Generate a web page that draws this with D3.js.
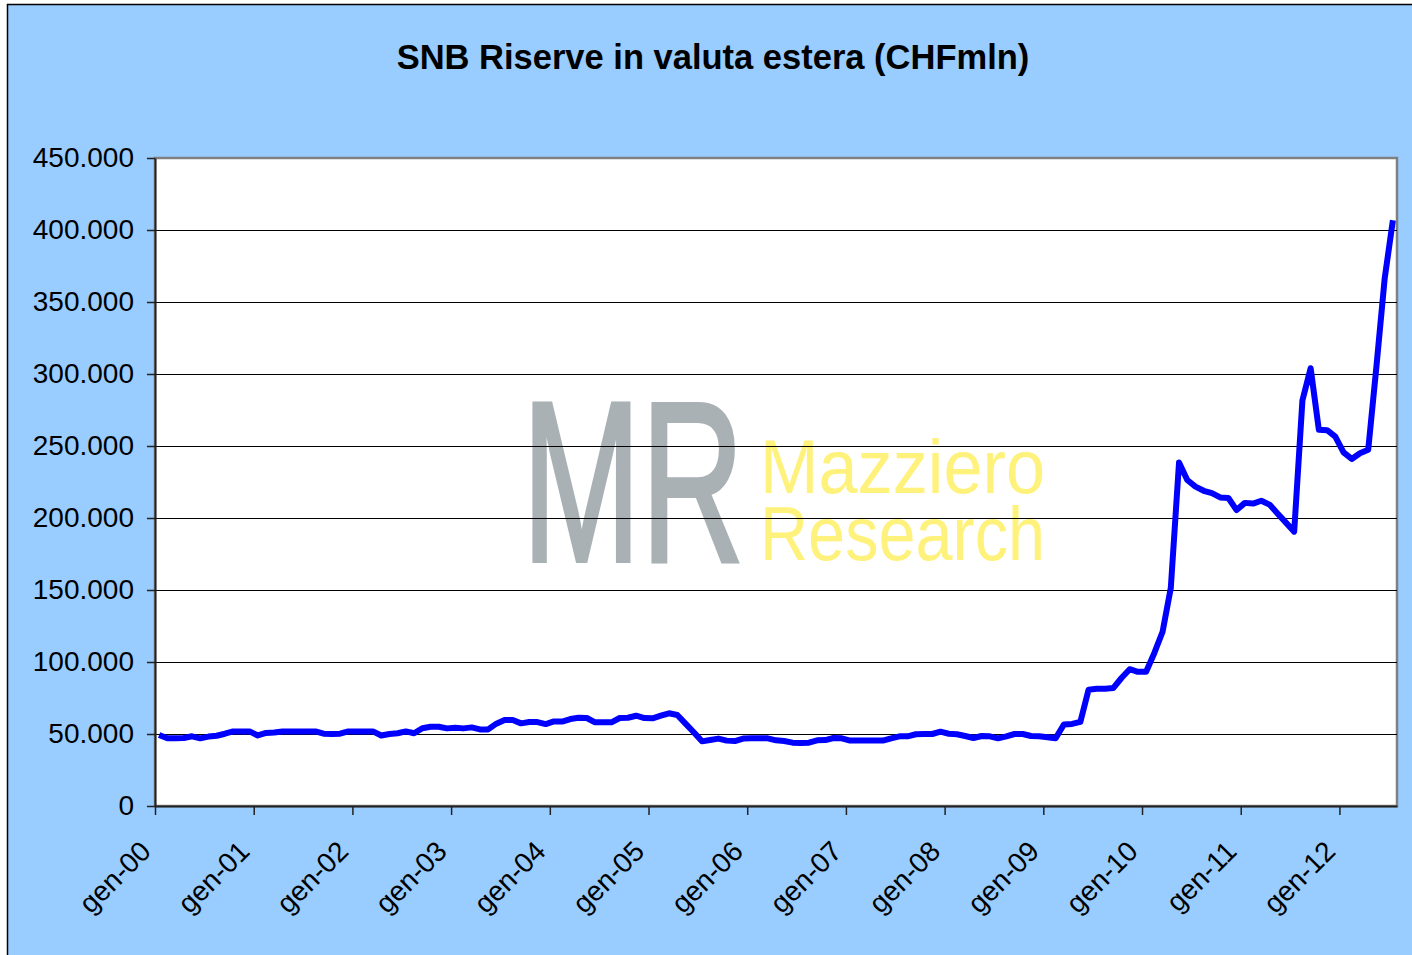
<!DOCTYPE html>
<html lang="it">
<head>
  <meta charset="UTF-8">
  <title>SNB Riserve in valuta estera</title>
  <script src="https://cdnjs.cloudflare.com/ajax/libs/d3/7.8.5/d3.min.js"></script>
  <style>
    body { margin:0; background:#fff; }
    svg { display:block; font-family: Arial, "Liberation Sans", sans-serif; }
    .axis text { font-size:28px; fill:#000; }
  </style>
</head>
<body>
<div id="chart"></div>
<script>
  // riserve mensili (CHF mln), gen-00 .. lug-12
  var yearLabels = ["00","01","02","03","04","05","06","07","08","09","10","11","12"]
  var yTicks = [0, 50000, 100000, 150000, 200000, 250000, 300000, 350000, 400000, 450000]

  var reserves2000 = [49300, 47000, 47000, 47200, 48400, 47000, 48200, 48800, 50200, 51800, 51800, 51800]
  var reserves2001 = [49000, 50700, 51000, 51800, 51800, 51800, 51800, 51800, 50200, 50000, 50200, 51800]
  var reserves2002 = [51800, 51800, 51800, 49000, 50000, 50500, 51800, 50500, 54000, 55000, 55000, 53900]
  var reserves2003 = [54400, 53900, 54600, 53200, 53200, 57200, 59700, 59700, 57400, 58300, 58300, 56900]
  var reserves2004 = [58700, 58600, 60400, 61300, 61100, 58100, 58100, 58100, 61100, 61300, 62700, 61100]
  var reserves2005 = [60900, 62700, 64400, 63200, 57200, 51200, 44900, 45800, 46800, 45400, 45100, 46800]
  var reserves2006 = [47000, 47000, 47000, 45600, 45100, 44000, 43800, 44000, 45600, 45800, 47200, 47000]
  var reserves2007 = [45400, 45400, 45400, 45400, 45400, 47000, 48400, 48400, 49800, 50000, 50000, 51600]
  var reserves2008 = [50200, 49800, 48600, 47200, 48600, 48400, 47000, 48400, 50000, 50000, 48600, 48400]
  var reserves2009 = [47800, 47000, 56600, 57000, 58400, 80800, 81400, 81400, 81900, 88900, 95000, 93200]
  var reserves2010 = [93200, 106300, 121000, 151500, 238500, 226400, 221800, 218900, 217300, 214300, 213900, 205500]
  var reserves2011 = [210500, 210000, 212000, 209300, 203000, 196800, 190500, 281600, 304000, 261200, 261000, 256500]
  var reserves2012 = [245600, 241000, 245000, 247400, 305300, 366200, 406800]

  var reserves = [].concat(reserves2000, reserves2001, reserves2002, reserves2003, reserves2004,
    reserves2005, reserves2006, reserves2007, reserves2008, reserves2009, reserves2010,
    reserves2011, reserves2012)

  var width = 1412, height = 955
  var plot = { left:155, top:158, right:1397, bottom:806 }

  var it = d3.formatLocale({ decimal:",", thousands:".", grouping:[3], currency:["","CHF"] })
  var fmt = it.format(",")

  var svg = d3.select("#chart").append("svg")
    .attr("width", width)
    .attr("height", height)

  svg.append("rect")
    .attr("x", 7.5).attr("y", 4.5)
    .attr("width", width + 20).attr("height", height + 20)
    .attr("fill", "#99CCFF")
    .attr("stroke", "#000")
    .attr("stroke-width", 1.5)

  svg.append("text")
    .attr("x", 713).attr("y", 69)
    .attr("text-anchor", "middle")
    .attr("font-size", 34.5)
    .attr("font-weight", "bold")
    .text("SNB Riserve in valuta estera (CHFmln)")

  // one slot per month, point in the middle of the slot
  var x = d3.scaleLinear().domain([0, reserves.length]).range([plot.left, plot.right])
  var y = d3.scaleLinear().domain([0, 450000]).range([plot.bottom, plot.top])

  svg.append("rect")
    .attr("x", plot.left).attr("y", plot.top)
    .attr("width", plot.right - plot.left)
    .attr("height", plot.bottom - plot.top)
    .attr("fill", "#fff")
    .attr("stroke", "#808080")
    .attr("stroke-width", 2.5)

  // watermark
  var wm = svg.append("g")
  wm.append("text")
    .attr("x", 522).attr("y", 561)
    .attr("font-size", 228)
    .attr("fill", "#A9B1B5")
    .attr("stroke", "#A9B1B5")
    .attr("stroke-width", 4)
    .attr("textLength", 222)
    .attr("lengthAdjust", "spacingAndGlyphs")
    .text("MR")
  wm.append("text")
    .attr("x", 760).attr("y", 493)
    .attr("font-size", 76)
    .attr("fill", "#FFF27C")
    .attr("textLength", 285)
    .attr("lengthAdjust", "spacingAndGlyphs")
    .text("Mazziero")
  wm.append("text")
    .attr("x", 760).attr("y", 560)
    .attr("font-size", 76)
    .attr("fill", "#FFF27C")
    .attr("textLength", 285)
    .attr("lengthAdjust", "spacingAndGlyphs")
    .text("Research")

  svg.append("g")
    .selectAll("line")
    .data(yTicks.slice(1, -1))
    .join("line")
    .attr("x1", plot.left).attr("x2", plot.right)
    .attr("y1", d => Math.round(y(d)) + 0.5)
    .attr("y2", d => Math.round(y(d)) + 0.5)
    .attr("stroke", "#000")
    .attr("stroke-width", 1)

  var yAxis = svg.append("g")
    .attr("class", "axis")
    .attr("transform", `translate(${plot.left},0)`)
    .call(d3.axisLeft(y).tickValues(yTicks).tickFormat(fmt).tickSize(8).tickSizeOuter(0).tickPadding(13))
  yAxis.select(".domain").attr("stroke", "#222").attr("stroke-width", 2)
  yAxis.selectAll(".tick line").attr("stroke", "#222").attr("stroke-width", 1.5)

  var xAxis = svg.append("g")
    .attr("class", "axis")
    .attr("transform", `translate(0,${plot.bottom})`)
    .call(d3.axisBottom(x)
      .tickValues(yearLabels.map((d, i) => i * 12))
      .tickFormat((d, i) => "gen-" + yearLabels[i])
      .tickSize(9).tickSizeOuter(0))
  xAxis.select(".domain").attr("stroke", "#222").attr("stroke-width", 2)
  xAxis.selectAll(".tick line").attr("stroke", "#222").attr("stroke-width", 1.5)
  xAxis.selectAll(".tick text")
    .attr("y", null).attr("dy", null)
    .attr("text-anchor", "end")
    .attr("transform", "translate(-3,47) rotate(-45)")

  var line = d3.line()
    .x((d, i) => x(i + 0.5))
    .y(d => y(d))

  svg.append("path")
    .datum(reserves)
    .attr("d", line)
    .attr("fill", "none")
    .attr("stroke", "#0000FF")
    .attr("stroke-width", 6)
    .attr("stroke-linejoin", "round")
</script>
</body>
</html>
